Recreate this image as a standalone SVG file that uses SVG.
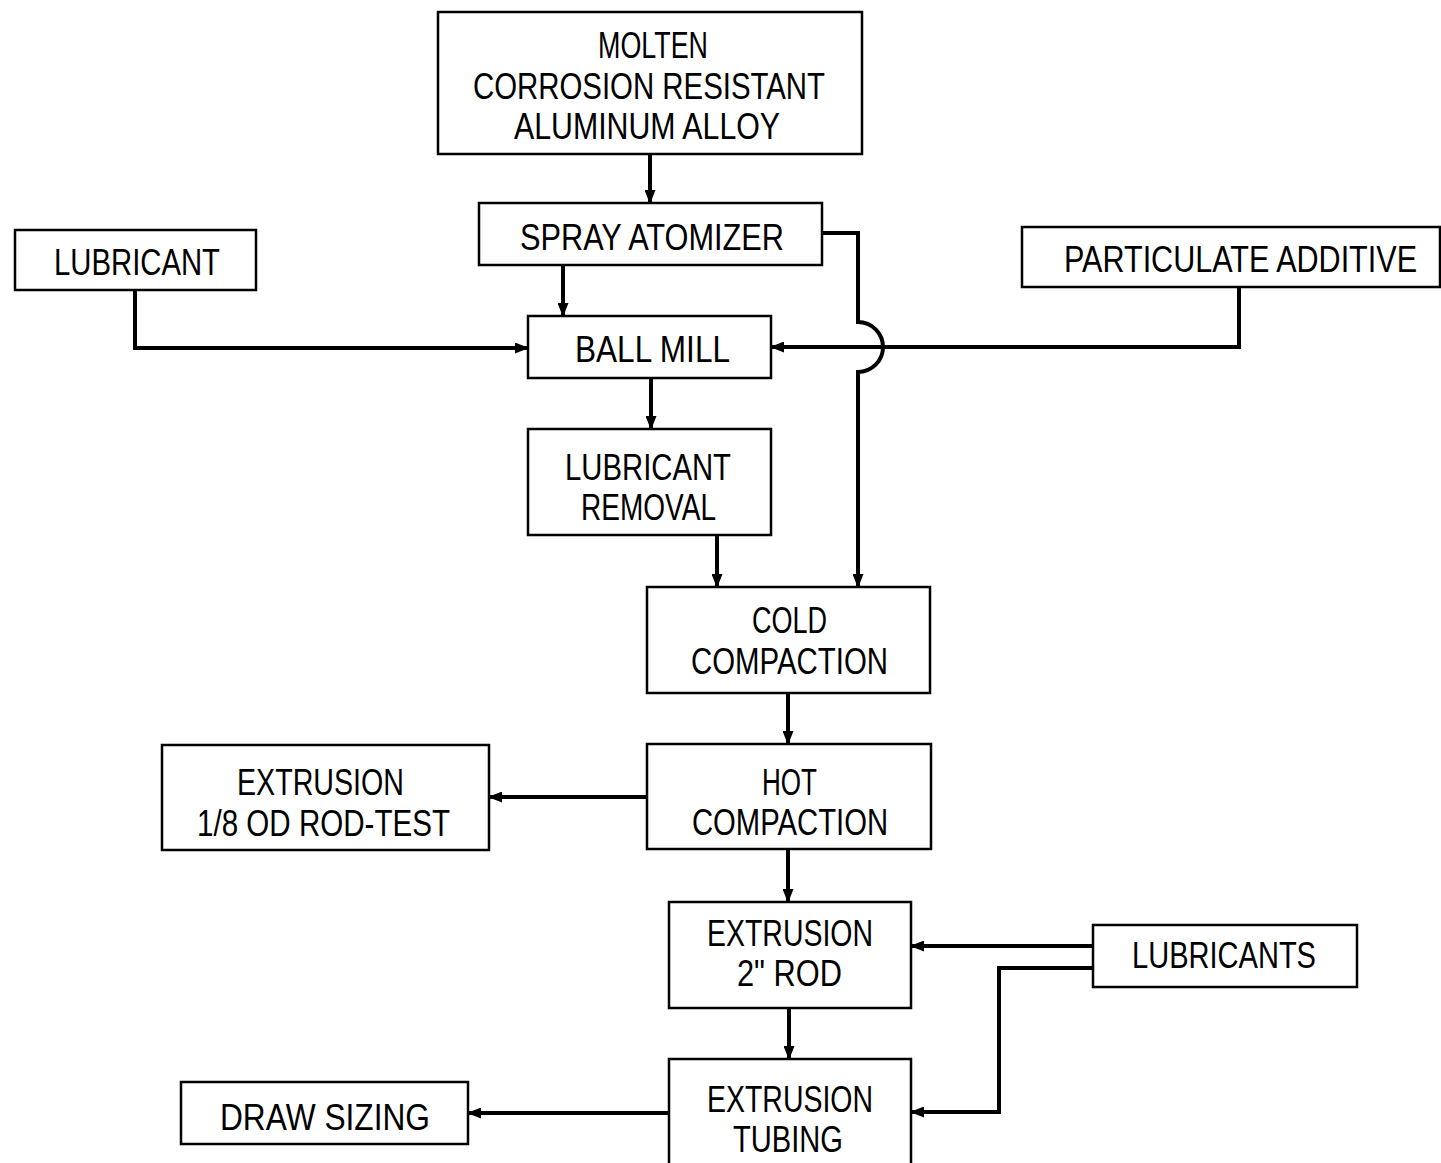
<svg xmlns="http://www.w3.org/2000/svg" width="1441" height="1163" viewBox="0 0 1441 1163">
<style>
.box{fill:#fff;stroke:#000;stroke-width:2.5}
.t{font-family:"Liberation Sans",Arial,sans-serif;font-size:36px;fill:#000;text-anchor:start}
.c{fill:none;stroke:#000;stroke-width:4}
</style>
<defs>
<marker id="a" viewBox="0 0 14 11" refX="13" refY="5.5" markerWidth="14" markerHeight="11" markerUnits="userSpaceOnUse" orient="auto">
<path d="M0,0 L14,5.5 L0,11 Z" fill="#000"/>
</marker>
</defs>
<rect width="1441" height="1163" fill="#fff"/>
<g id="connectors">
<path class="c" d="M650,154 V203" marker-end="url(#a)"/>
<path class="c" d="M563,265 V316" marker-end="url(#a)"/>
<path class="c" d="M822,233 H858 V322 A25,25 0 0 1 858,372 V587" marker-end="url(#a)"/>
<path class="c" d="M135,290 V348 H528" marker-end="url(#a)"/>
<path class="c" d="M1239,287 V347 H771" marker-end="url(#a)"/>
<path class="c" d="M651,378 V429" marker-end="url(#a)"/>
<path class="c" d="M717,535 V587" marker-end="url(#a)"/>
<path class="c" d="M788,693 V744" marker-end="url(#a)"/>
<path class="c" d="M647,797 H489" marker-end="url(#a)"/>
<path class="c" d="M788,849 V902" marker-end="url(#a)"/>
<path class="c" d="M1093,946 H911" marker-end="url(#a)"/>
<path class="c" d="M1093,968 H999 V1112 H911" marker-end="url(#a)"/>
<path class="c" d="M789,1008 V1059" marker-end="url(#a)"/>
<path class="c" d="M669,1113 H468" marker-end="url(#a)"/>
</g>
<g id="molten">
<rect class="box" x="438" y="12" width="424" height="142"/>
<text class="t" x="598" y="58" textLength="110" lengthAdjust="spacingAndGlyphs">MOLTEN</text>
<text class="t" x="473" y="99" textLength="352" lengthAdjust="spacingAndGlyphs">CORROSION RESISTANT</text>
<text class="t" x="514" y="139" textLength="266" lengthAdjust="spacingAndGlyphs">ALUMINUM ALLOY</text>
</g>
<g id="spray">
<rect class="box" x="479" y="203" width="343" height="62"/>
<text class="t" x="520" y="250" textLength="264" lengthAdjust="spacingAndGlyphs">SPRAY ATOMIZER</text>
</g>
<g id="lubricant">
<rect class="box" x="15" y="230" width="241" height="60"/>
<text class="t" x="54" y="275" textLength="166" lengthAdjust="spacingAndGlyphs">LUBRICANT</text>
</g>
<g id="particulate">
<rect class="box" x="1022" y="227" width="418" height="60"/>
<text class="t" x="1064" y="272" textLength="353" lengthAdjust="spacingAndGlyphs">PARTICULATE ADDITIVE</text>
</g>
<g id="ballmill">
<rect class="box" x="528" y="316" width="243" height="62"/>
<text class="t" x="575" y="362" textLength="155" lengthAdjust="spacingAndGlyphs">BALL MILL</text>
</g>
<g id="lubremoval">
<rect class="box" x="528" y="429" width="243" height="106"/>
<text class="t" x="565" y="480" textLength="166" lengthAdjust="spacingAndGlyphs">LUBRICANT</text>
<text class="t" x="581" y="520" textLength="135" lengthAdjust="spacingAndGlyphs">REMOVAL</text>
</g>
<g id="cold">
<rect class="box" x="647" y="587" width="283" height="106"/>
<text class="t" x="752" y="633" textLength="75" lengthAdjust="spacingAndGlyphs">COLD</text>
<text class="t" x="691" y="674" textLength="197" lengthAdjust="spacingAndGlyphs">COMPACTION</text>
</g>
<g id="hot">
<rect class="box" x="647" y="744" width="284" height="105"/>
<text class="t" x="762" y="795" textLength="55" lengthAdjust="spacingAndGlyphs">HOT</text>
<text class="t" x="692" y="835" textLength="196" lengthAdjust="spacingAndGlyphs">COMPACTION</text>
</g>
<g id="exttest">
<rect class="box" x="162" y="745" width="327" height="105"/>
<text class="t" x="237" y="795" textLength="167" lengthAdjust="spacingAndGlyphs">EXTRUSION</text>
<text class="t" x="197" y="836" textLength="253" lengthAdjust="spacingAndGlyphs">1/8 OD ROD-TEST</text>
</g>
<g id="extrod">
<rect class="box" x="669" y="902" width="242" height="106"/>
<text class="t" x="707" y="946" textLength="166" lengthAdjust="spacingAndGlyphs">EXTRUSION</text>
<text class="t" x="737" y="986" textLength="105" lengthAdjust="spacingAndGlyphs">2" ROD</text>
</g>
<g id="lubricants">
<rect class="box" x="1093" y="925" width="264" height="62"/>
<text class="t" x="1132" y="968" textLength="184" lengthAdjust="spacingAndGlyphs">LUBRICANTS</text>
</g>
<g id="exttubing">
<rect class="box" x="669" y="1059" width="242" height="110"/>
<text class="t" x="707" y="1112" textLength="166" lengthAdjust="spacingAndGlyphs">EXTRUSION</text>
<text class="t" x="733" y="1152" textLength="110" lengthAdjust="spacingAndGlyphs">TUBING</text>
</g>
<g id="drawsizing">
<rect class="box" x="181" y="1082" width="287" height="62"/>
<text class="t" x="220" y="1130" textLength="210" lengthAdjust="spacingAndGlyphs">DRAW SIZING</text>
</g>
</svg>
